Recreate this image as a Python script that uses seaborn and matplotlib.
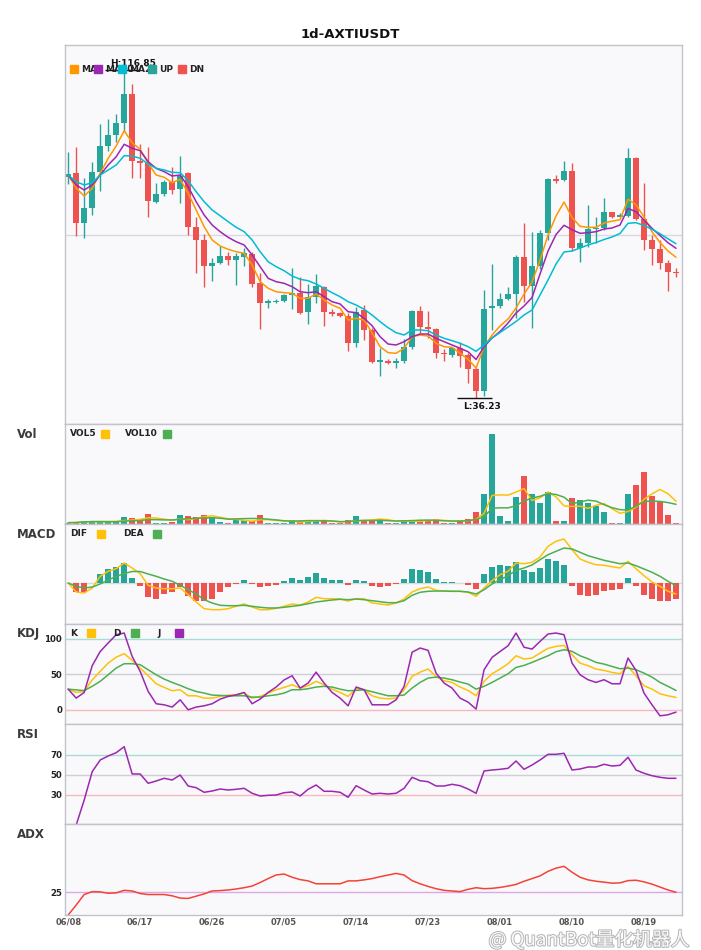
import numpy as np
import seaborn as sns
import matplotlib
matplotlib.use('Agg')
import matplotlib.pyplot as plt
from matplotlib.patches import Rectangle
import matplotlib.patheffects as pe

# 数据
tick_labels = ['06/08', '06/17', '06/26', '07/05', '07/14', '07/23', '08/01', '08/10', '08/19']

opens = np.array([
    90.63, 91.46, 79.32, 83.01, 91.86, 98.25, 100.95, 103.75, 110.95, 94.49,
    93.92, 84.48, 86.37, 89.32, 87.60, 91.46, 78.19, 75.07, 68.75, 69.49,
    71.14, 70.23, 70.96, 71.63, 64.57, 59.66, 59.83, 60.07, 61.55, 61.97,
    57.44, 61.13, 63.59, 57.44, 57.05, 56.46, 49.82, 57.86, 52.95, 45.15,
    45.40, 44.76, 45.40, 48.69, 57.62, 53.61, 53.19, 47.37, 46.80, 48.45,
    46.80, 43.36, 38.03, 58.28, 58.92, 60.57, 61.79, 70.96, 63.83, 68.68,
    76.71, 89.94, 89.82, 92.03, 73.18, 74.40, 77.70, 77.94, 82.02, 80.80,
    80.97, 95.30, 80.16, 75.07, 72.86, 69.49, 67.13])
highs = np.array([
    96.77, 97.85, 90.23, 94.17, 103.51, 104.74, 105.97, 116.85, 113.41, 98.66,
    97.85, 89.00, 89.82, 92.94, 95.72, 91.86, 80.80, 76.54, 70.57, 73.59,
    72.19, 71.80, 73.18, 72.19, 66.88, 60.57, 60.57, 61.79, 68.11, 66.05,
    64.25, 66.71, 63.76, 58.03, 57.30, 57.05, 58.67, 59.09, 53.36, 48.45,
    45.74, 45.99, 50.66, 57.86, 58.92, 57.62, 53.36, 48.20, 48.84, 50.07,
    47.22, 43.93, 62.78, 69.17, 61.97, 63.59, 71.38, 79.32, 77.11, 77.53,
    90.30, 91.04, 94.49, 94.07, 75.63, 83.67, 80.80, 85.32, 82.02, 81.78,
    97.76, 95.54, 89.00, 76.30, 75.07, 70.15, 68.11])
lows = np.array([
    88.83, 76.13, 75.49, 81.21, 87.19, 97.02, 99.23, 101.69, 90.38, 90.38,
    80.80, 84.24, 85.88, 86.37, 84.16, 76.30, 66.88, 63.59, 65.06, 69.17,
    68.92, 64.01, 68.68, 63.44, 53.19, 58.43, 59.51, 59.75, 58.11, 56.88,
    54.42, 59.51, 53.93, 56.46, 56.21, 47.86, 48.84, 50.49, 44.91, 41.71,
    44.51, 43.68, 44.91, 48.20, 52.28, 51.05, 46.14, 45.40, 46.38, 43.93,
    39.84, 36.23, 36.72, 52.95, 58.28, 60.32, 55.82, 59.75, 53.36, 67.90,
    75.07, 89.00, 89.57, 72.36, 69.73, 73.27, 74.26, 77.53, 80.55, 80.65,
    80.65, 79.98, 72.61, 68.92, 67.87, 62.61, 65.90])
closes = np.array([
    91.29, 79.17, 82.86, 91.71, 98.17, 100.88, 103.75, 110.95, 94.56, 94.07,
    84.73, 86.30, 89.32, 87.36, 90.80, 78.34, 75.07, 68.75, 69.41, 71.14,
    70.23, 71.14, 71.80, 64.25, 59.66, 60.07, 60.15, 61.55, 62.11, 57.20,
    61.13, 63.76, 57.44, 56.88, 56.46, 49.82, 57.44, 52.95, 45.15, 45.40,
    44.76, 45.40, 48.84, 57.62, 53.76, 53.19, 47.22, 47.05, 48.45, 46.56,
    43.36, 38.03, 58.11, 58.85, 60.49, 61.79, 70.96, 63.83, 68.68, 76.86,
    90.06, 89.69, 92.03, 73.18, 74.40, 77.70, 77.94, 82.02, 80.80, 81.14,
    95.30, 80.16, 75.07, 72.86, 69.49, 67.28, 66.88])

ma5 = [
    91.04, 87.78, 85.88, 87.78, 91.46, 95.15, 98.17, 101.93, 98.98, 97.36,
    93.92, 91.04, 90.48, 89.15, 89.99, 86.55, 82.44, 78.34, 75.07, 73.59,
    72.78, 72.19, 71.80, 68.92, 64.82, 63.20, 62.36, 62.11, 61.97, 60.74,
    60.74, 61.79, 60.32, 59.09, 58.28, 55.40, 55.82, 55.40, 52.21, 48.84,
    47.37, 47.22, 48.45, 51.30, 51.72, 51.47, 49.68, 48.84, 48.69, 47.22,
    45.74, 43.61, 48.77, 51.72, 53.93, 55.65, 58.35, 61.79, 64.74, 70.15,
    76.30, 80.97, 84.41, 80.60, 78.44, 78.19, 78.19, 79.25, 79.69, 80.06,
    85.07, 83.74, 80.72, 77.11, 74.45, 72.36, 70.82]
ma10 = [
    91.04, 88.59, 87.36, 88.59, 91.04, 93.50, 95.54, 98.59, 97.61, 97.02,
    94.31, 92.69, 91.86, 90.80, 91.04, 88.17, 84.48, 81.21, 78.75, 77.11,
    75.73, 74.65, 73.84, 71.38, 68.51, 65.65, 64.82, 64.42, 63.59, 62.36,
    62.11, 62.36, 61.13, 59.90, 59.34, 57.44, 57.20, 55.82, 53.98, 51.30,
    49.50, 49.26, 50.07, 51.30, 51.96, 51.96, 50.91, 50.07, 49.26, 48.45,
    47.61, 45.69, 48.84, 50.98, 52.58, 54.67, 57.12, 58.85, 60.93, 66.71,
    72.36, 76.42, 78.68, 77.60, 76.71, 76.86, 77.11, 77.77, 78.02, 78.75,
    82.81, 82.02, 79.98, 77.94, 76.17, 74.40, 73.03]
ma20 = [
    91.04, 89.40, 88.59, 89.15, 91.04, 92.27, 93.50, 95.79, 95.72, 95.15,
    93.75, 92.69, 92.27, 91.71, 91.61, 89.64, 86.94, 84.48, 82.44, 81.02,
    79.57, 78.19, 77.11, 75.07, 72.19, 69.73, 68.51, 67.52, 66.22, 65.41,
    65.06, 64.25, 63.20, 62.11, 61.13, 59.90, 59.09, 58.03, 56.63, 54.99,
    53.51, 52.28, 51.72, 52.95, 52.95, 52.77, 51.72, 50.91, 50.32, 49.68,
    48.84, 47.71, 49.26, 50.98, 52.33, 53.68, 55.04, 56.63, 57.86, 61.55,
    65.24, 69.17, 72.12, 72.36, 73.10, 73.84, 74.45, 75.19, 75.81, 76.67,
    79.17, 79.32, 78.63, 77.70, 76.62, 75.36, 74.16]

volumes = np.array([
    1.3, 1.7, 3.3, 3.3, 2.3, 2.0, 2.0, 7.3, 6.0, 5.3,
    10.3, 1.3, 1.3, 1.7, 9.3, 8.3, 7.3, 9.3, 7.0, 1.7,
    0.7, 4.3, 4.3, 3.0, 9.3, 0.7, 0.7, 0.7, 3.7, 3.3,
    4.3, 3.7, 3.0, 0.7, 0.7, 3.7, 8.3, 4.3, 3.3, 5.0,
    0.7, 0.7, 4.3, 3.3, 4.3, 4.3, 5.3, 0.7, 0.7, 4.3,
    5.3, 12.3, 30.3, 90.3, 8.3, 3.3, 27.3, 48.3, 30.3, 21.3,
    32.3, 3.3, 3.3, 26.3, 24.3, 21.3, 18.3, 12.3, 0.7, 0.7,
    30.3, 39.3, 52.3, 28.3, 22.3, 9.3, 1.3])
vol5 = [
    1.3, 1.5, 2.1, 2.4, 2.4, 2.5, 2.6, 3.4, 3.9, 4.5,
    6.2, 6.0, 4.8, 4.0, 4.8, 4.4, 5.6, 7.2, 8.2, 6.7,
    5.2, 4.6, 3.6, 2.8, 4.3, 4.3, 3.6, 2.9, 3.0, 1.8,
    2.5, 3.1, 3.6, 3.0, 2.5, 2.4, 3.3, 3.5, 4.1, 4.9,
    4.3, 2.8, 2.8, 2.8, 2.7, 3.4, 4.3, 3.6, 3.1, 3.1,
    3.3, 4.7, 10.6, 28.5, 29.1, 28.9, 31.9, 35.5, 23.5, 26.1,
    31.9, 27.1, 18.1, 17.5, 17.9, 15.7, 18.7, 20.5, 15.3, 10.7,
    12.5, 16.7, 24.7, 30.1, 34.5, 30.3, 22.7]
vol10 = [
    1.3, 1.5, 2.1, 2.4, 2.4, 2.3, 2.3, 2.9, 3.2, 3.4,
    4.4, 4.3, 4.1, 4.0, 4.7, 5.3, 5.8, 6.0, 6.1, 5.8,
    4.8, 5.1, 5.4, 5.5, 5.5, 4.8, 4.1, 3.2, 2.9, 3.1,
    3.4, 3.4, 3.2, 3.0, 2.2, 2.5, 3.2, 3.6, 3.5, 3.7,
    3.3, 3.0, 3.2, 3.4, 3.8, 3.9, 3.6, 3.2, 2.9, 2.9,
    3.3, 4.5, 7.1, 15.8, 16.2, 16.1, 18.3, 23.0, 26.0, 27.7,
    30.4, 29.5, 26.8, 20.4, 22.0, 23.8, 22.9, 19.3, 16.3, 14.3,
    14.1, 17.7, 22.6, 22.8, 22.6, 21.4, 19.7]

dif = [
    0, -9, -10, -5, 6.7, 11.7, 14.3, 20, 15, 9.3,
    -2.3, -5, -5.7, -5.7, -5, -11.7, -19, -25.7, -26.7, -26.7,
    -25.7, -23.3, -21, -24, -26.7, -26.7, -25.3, -23.3, -21, -22,
    -19, -14.3, -15.7, -15.7, -16, -18, -15.7, -15.7, -20, -21,
    -22, -20, -16, -9, -5.7, -4, -7.3, -8.3, -8.3, -8.3,
    -9.3, -13.3, -5, 2.3, 8.3, 11.7, 20, 19.3, 20.7, 26,
    36.7, 41.7, 44, 33.3, 24, 20.7, 18.3, 17.7, 16.3, 15,
    21.7, 14.3, 7.3, 1, -3.3, -8.3, -11]
dea = [
    0, -3.5, -5, -4, -1, 3, 6.5, 9.5, 11.5, 11.5,
    9, 6.7, 4, 1.7, -2.3, -6.7, -11, -16.7, -20, -22.3,
    -22.7, -22.7, -22.3, -23.3, -24.3, -25, -25, -24.3, -23.3, -22.3,
    -20.7, -19, -18, -17, -16.3, -16.7, -16, -16.7, -17.7, -18.7,
    -19.7, -19.7, -17.7, -12.3, -9.3, -8.3, -8, -8, -8.3, -8.3,
    -9, -11, -6.7, -1, 3.3, 7.3, 12.7, 15, 18, 23.3,
    28.3, 31.7, 35, 34, 30.7, 27.3, 25, 22.7, 21, 19.3,
    20, 17.3, 14, 10.7, 6.7, 1.7, -2.7]
macd_hist = np.array([
    0, -9.3, -9.3, 0.5, 9.3, 14.3, 16.3, 20.3, 5.3, -3.3,
    -14.3, -15.7, -11.3, -9.3, -4.3, -13.3, -18.3, -18.3, -15.7, -9.3,
    -4.3, -0.7, 3.3, -0.7, -4.3, -3.3, -1.7, 2.3, 5.3, 3.3,
    6.3, 10.3, 5.3, 3.3, 3.3, -2.3, 3.3, 2.3, -3.3, -4.3,
    -3.3, -1.3, 4.3, 14.3, 13.3, 11.3, 4.3, 1.3, 1.3, 0,
    -2.3, -6.3, 9.3, 16.3, 18.3, 17.3, 21.3, 13.3, 11.3, 15.3,
    24.3, 22.3, 18.3, -3.3, -12.3, -13.3, -12.3, -8.3, -7.3, -6.3,
    5.3, -3.3, -12.3, -16.3, -18.3, -18.3, -16.3])

k_line = [
    29, 24.4, 26, 42, 54, 65.7, 74, 79, 69.5, 58.7,
    47.9, 36.6, 31.5, 26.8, 28.2, 19.7, 19.7, 16.4, 16.4, 18.8,
    20.7, 21, 23.5, 16.4, 18.8, 23.5, 28.2, 31.5, 35.2, 30.5,
    33.8, 40, 35.2, 29, 24.4, 18.8, 29.6, 28.2, 19.7, 16.4,
    15.5, 16.4, 28.2, 47, 53, 57.3, 47, 40.8, 38.5, 32,
    27.2, 19.7, 40, 50.7, 57.3, 64.8, 76, 71.4, 72.8, 79.8,
    86.4, 89.2, 90.6, 77.5, 65.7, 62, 57.3, 55.4, 52.6, 50.7,
    61, 47.9, 33.8, 29, 22.5, 19.7, 17.4]
d_line = [
    29, 28, 27, 33, 40, 49.3, 58.7, 64.8, 64.8, 63.4,
    56.3, 49.3, 43.2, 38.5, 34.3, 29.6, 25.8, 23.5, 20.7, 20.2,
    19.7, 19.7, 19.7, 17.8, 17.8, 19.7, 21, 23.5, 28.2, 28.2,
    29.6, 32, 33, 32, 29, 26.8, 27.2, 28.2, 25.4, 22.5,
    19.7, 19.7, 20.7, 30.5, 38.5, 44.6, 46, 44.6, 42.3, 39,
    36.2, 29, 33, 38.5, 44.6, 50.7, 59.6, 62.4, 66.7, 71.4,
    76, 81.7, 84.5, 82.2, 76, 71.8, 66.7, 64.3, 61, 57.7,
    58.7, 56.3, 51.6, 46, 38.5, 33, 27.2]
j_line = [
    29, 16.4, 24.4, 62, 82, 94, 105.6, 108, 75, 54,
    25.8, 8.5, 7, 3.8, 14, 0, 3.8, 5.6, 8.5, 15,
    18.8, 21, 24.4, 8.5, 15, 24.4, 32, 42, 47.9, 30.5,
    37.6, 53, 37.6, 24.4, 16.4, 5.6, 32, 28.2, 7, 7,
    7, 14, 32.9, 81, 86.9, 83.6, 51.6, 37.6, 30.5, 16.4,
    10.8, 1, 56.3, 73.7, 82, 90, 108, 88, 85.4, 96.2,
    106.6, 108, 105.6, 65.7, 49.3, 42.3, 38.5, 42.3, 36.6, 36.6,
    72.8, 55.4, 23.5, 7, -8.5, -7, -3.3]

rsi = [
    0, 0, 25, 53.3, 65, 69, 72.3, 78.3, 51, 51,
    41.7, 44, 46.7, 45, 50, 39, 37.3, 32.7, 34, 36,
    35, 35.7, 36.7, 31.7, 29, 29.7, 30, 32.3, 33, 29,
    35.7, 40, 33.7, 33.7, 32.7, 27.7, 39.3, 35, 31, 31.7,
    31, 31.7, 36.7, 47.7, 44.3, 43.3, 39, 39, 40.7, 39.3,
    36, 31.7, 54, 55, 55.7, 56.7, 64, 55.7, 60, 65,
    70.7, 70.7, 71.7, 55, 56, 58, 58, 60.7, 59, 59.7,
    67.7, 55, 51.7, 49.3, 47.7, 46.7, 46.7]

adx = [
    0, 11, 22.5, 25.7, 25.4, 23.9, 24.3, 27.1, 26.4, 23.6,
    22.5, 22.5, 22.5, 21.1, 18.6, 18.2, 20.7, 23.2, 26.4, 26.8,
    27.5, 28.6, 30, 31.8, 35.7, 40, 44, 45, 41.5, 38.9,
    37.5, 34.3, 34.3, 34.3, 34.3, 37.5, 37.5, 38.6, 40, 42.1,
    43.9, 45.7, 43.9, 37.8, 34.3, 31.4, 28.9, 27.1, 26.4, 25.7,
    28.2, 30, 28.9, 29.3, 30.3, 31.8, 33.6, 37.1, 40, 43,
    48, 51.5, 53.5, 47, 41.5, 38.6, 37.1, 36.1, 35, 35.3,
    37.8, 38.2, 36.4, 33.9, 30.7, 27.5, 25]

UP = '#26a69a'
DN = '#ef5350'
YEL = '#ffc107'
GRN = '#4caf50'
PUR = '#9c27b0'

sns.set_theme(style='white')
plt.rcParams['font.family'] = ['DejaVu Sans', 'Noto Sans CJK SC']

n = len(closes)
idx = np.arange(n)
bar_colors = np.where(closes >= opens, UP, DN)

W, H = 701, 950
fig = plt.figure(figsize=(7.01, 9.5), dpi=100)
fig.patch.set_facecolor('white')


def panel(top, bottom):
    ax = fig.add_axes([65 / W, 1 - bottom / H, 617 / W, (bottom - top) / H])
    ax.set_facecolor('#f9f9fb')
    for s in ax.spines.values():
        s.set_color('#c2c2ca')
        s.set_linewidth(1)
    ax.tick_params(length=0)
    ax.set_xticks([])
    ax.set_yticks([])
    return ax


def line(ax, y, color, lw=1.1):
    sns.lineplot(x=idx, y=y, ax=ax, color=color, linewidth=lw, legend=False, estimator=None)
    ax.set_xlabel('')
    ax.set_ylabel('')


def square(x, yc, color):
    fig.add_artist(Rectangle((x / W, 1 - (yc + 4) / H), 8 / W, 8 / H,
                             transform=fig.transFigure, color=color, zorder=10))


def label(x, yc, text, size=6.5):
    fig.text(x / W, 1 - yc / H, text, ha='left', va='center', fontsize=size,
             weight='bold', color='#222222', zorder=9)


# 主图: K线
ax0 = panel(45, 424)
ax0.vlines(idx, lows, highs, color=bar_colors, lw=1)
body = np.maximum(np.abs(closes - opens), 0.3)
ax0.bar(idx, body, bottom=np.minimum(opens, closes), width=0.7, color=bar_colors, linewidth=0)
line(ax0, ma5, '#ff9800')
line(ax0, ma10, PUR)
line(ax0, ma20, '#00bcd4')
ylo, yhi = 29.84, 123.0
ax0.set_ylim(ylo, yhi)
ax0.axhline((ylo + yhi) / 2, color='#dcd7e3', lw=1, zorder=0)

hi_i = int(np.argmax(highs))
lo_i = int(np.argmin(lows))
ax0.hlines(highs[hi_i], hi_i - 2.4, hi_i + 2.0, color='#111111', lw=1)
ax0.text(hi_i + 1.1, highs[hi_i] + 0.6, f'H:{highs[hi_i]:.2f}', ha='center', va='bottom',
         fontsize=6.5, weight='bold', color='#111111')
ax0.hlines(lows[lo_i], lo_i - 2.4, lo_i + 2.0, color='#111111', lw=1)
ax0.text(lo_i + 0.8, lows[lo_i] - 1.0, f'L:{lows[lo_i]:.2f}', ha='center', va='top',
         fontsize=6.5, weight='bold', color='#111111')

for x, c, t in [(70, '#ff9800', 'MA5'), (94, PUR, 'MA10'), (118, '#00bcd4', 'MA20'),
                (148, UP, 'UP'), (178, DN, 'DN')]:
    label(x + 11, 69, t)
    square(x, 69, c)

# 成交量
ax1 = panel(424, 524)
ax1.bar(idx, volumes, width=0.68, color=bar_colors, linewidth=0)
line(ax1, vol5, YEL)
line(ax1, vol10, GRN)
ax1.set_ylim(0, volumes.max() * 1.107)
label(70, 434, 'VOL5'); square(101, 434, YEL)
label(125, 434, 'VOL10'); square(163, 434, GRN)

# MACD
ax2 = panel(524, 624)
ax2.axhline(0, color='#d9d9de', lw=1, zorder=0)
ax2.bar(idx, macd_hist, width=0.68, color=np.where(macd_hist >= 0, UP, DN), linewidth=0)
line(ax2, dif, YEL)
line(ax2, dea, GRN)
ax2.set_ylim(-41, 59)
label(70, 534, 'DIF'); square(97, 534, YEL)
label(123, 534, 'DEA'); square(153, 534, GRN)

# KDJ
ax3 = panel(624, 724)
ax3.axhline(100, color='#a8dcd6', lw=1, zorder=0)
ax3.axhline(50, color='#cfcfd4', lw=1, zorder=0)
ax3.axhline(0, color='#f7b9b9', lw=1, zorder=0)
line(ax3, k_line, YEL)
line(ax3, d_line, GRN)
line(ax3, j_line, PUR)
ax3.set_ylim(-20, 120.7)
ax3.set_yticks([0, 50, 100])
label(70, 633, 'K'); square(87, 633, YEL)
label(113, 633, 'D'); square(131, 633, GRN)
label(157, 633, 'J'); square(175, 633, PUR)

# RSI
ax4 = panel(724, 824)
ax4.axhline(70, color='#a8dcd6', lw=1, zorder=0)
ax4.axhline(50, color='#cfcfd4', lw=1, zorder=0)
ax4.axhline(30, color='#f7b9b9', lw=1, zorder=0)
line(ax4, rsi, PUR)
ax4.set_ylim(1, 101)
ax4.set_yticks([30, 50, 70])

# ADX
ax5 = panel(824, 915)
ax5.axhline(25, color='#dda8e6', lw=1, zorder=0)
line(ax5, adx, '#f44336')
ax5.set_ylim(0, 100)
ax5.set_yticks([25])
ax5.set_xticks(np.arange(0, n, 9)[:len(tick_labels)])
ax5.set_xticklabels(tick_labels)

for ax in [ax0, ax1, ax2, ax3, ax4, ax5]:
    ax.set_xlim(-0.4, n - 0.25)
    ax.tick_params(axis='y', pad=2, labelsize=6.2, labelcolor='#222222')
    for t in ax.get_yticklabels():
        t.set_fontweight('bold')
ax5.tick_params(axis='x', pad=2, labelsize=6, labelcolor='#555555')
for t in ax5.get_xticklabels():
    t.set_fontweight('bold')

# 标题和面板名称
fig.text(0.5, 1 - 34 / H, '1d-AXTIUSDT', ha='center', va='center', fontsize=9.5,
         weight='bold', color='#111111')
for name, yc in [('Vol', 434), ('MACD', 534), ('KDJ', 634), ('RSI', 734), ('ADX', 834)]:
    fig.text(17 / W, 1 - yc / H, name, ha='left', va='center', fontsize=8.5,
             weight='bold', color='#3a3a3a')

# 水印 (放在刻度标签下方, 避免重叠)
fig.text(690 / W, 1 - 940 / H, '@ QuantBot量化机器人', ha='right', va='center',
         fontsize=13.5, color='white', alpha=0.95, zorder=20,
         family=['Noto Sans CJK SC', 'DejaVu Sans'],
         path_effects=[pe.withStroke(linewidth=1.4, foreground='#b0b0b0')])

fig.savefig('out.png', dpi=100)
